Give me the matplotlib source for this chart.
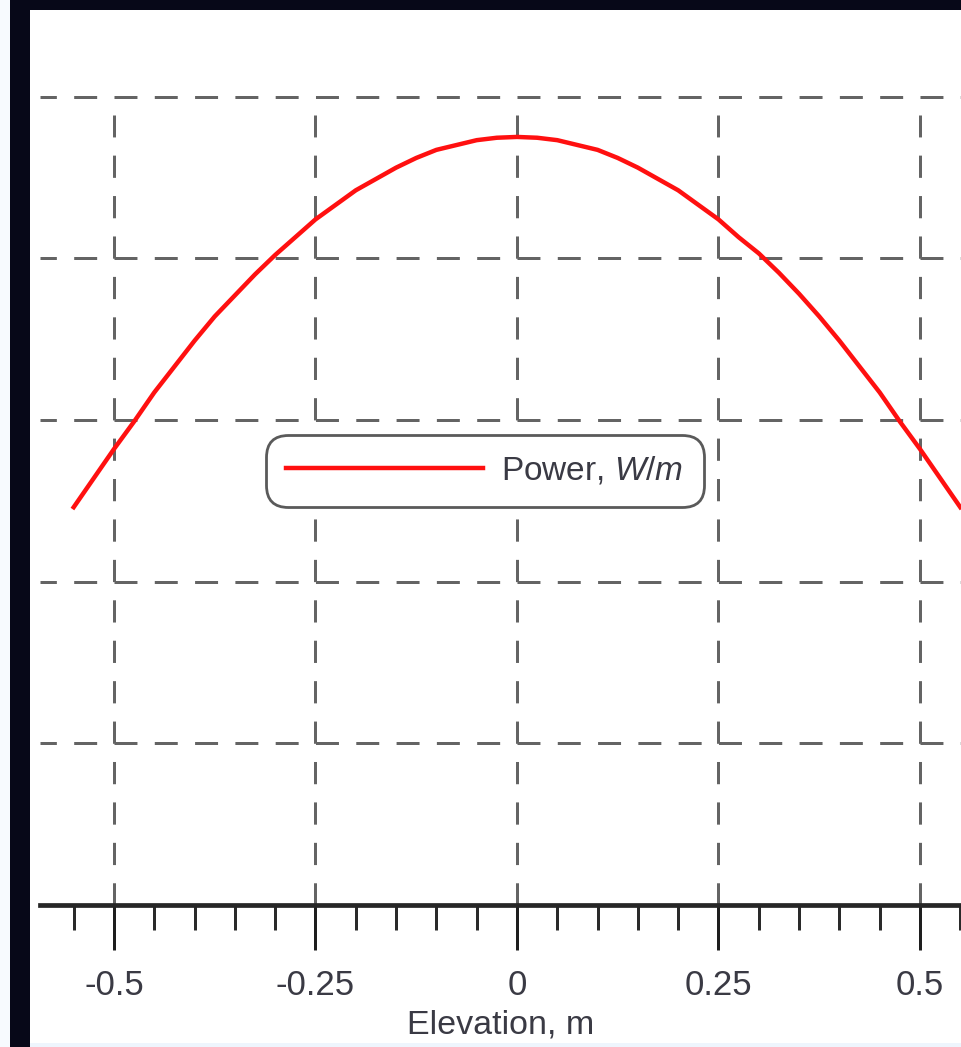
import matplotlib
matplotlib.use("Agg")
import matplotlib.pyplot as plt
from matplotlib.patches import Rectangle


# elevation (m) and power (W/m)
elevation = [-0.55, -0.525, -0.5, -0.475, -0.45, -0.425, -0.4, -0.375, -0.35, -0.325, -0.3, -0.275,
             -0.25, -0.225, -0.2, -0.175, -0.15, -0.125, -0.1, -0.075, -0.05, -0.025, 0.0,
             0.025, 0.05, 0.075, 0.1, 0.125, 0.15, 0.175, 0.2, 0.225, 0.25, 0.275, 0.3,
             0.325, 0.35, 0.375, 0.4, 0.425, 0.45, 0.475, 0.5, 0.525, 0.55]
power = [2.46, 2.64, 2.82, 2.99, 3.17, 3.33, 3.49, 3.64, 3.77, 3.90, 4.02, 4.13,
         4.24, 4.33, 4.42, 4.49, 4.56, 4.62, 4.67, 4.70, 4.73, 4.745, 4.75,
         4.745, 4.73, 4.70, 4.67, 4.62, 4.56, 4.49, 4.42, 4.33, 4.24, 4.13, 4.03,
         3.91, 3.78, 3.64, 3.49, 3.33, 3.17, 2.99, 2.82, 2.64, 2.46]

major_ticks = [-0.5, -0.25, 0.0, 0.25, 0.5]
major_labels = ["-0.5", "-0.25", "0", "0.25", "0.5"]
minor_ticks = [-0.55, -0.45, -0.4, -0.35, -0.3, -0.2, -0.15, -0.1, -0.05,
               0.05, 0.1, 0.15, 0.2, 0.3, 0.35, 0.4, 0.45, 0.55]
grid_levels = [1, 2, 3, 4, 5]

plt.rcParams["font.family"] = ["Liberation Sans", "DejaVu Sans"]
plt.rcParams["mathtext.fontset"] = "custom"
plt.rcParams["mathtext.rm"] = "Liberation Sans"
plt.rcParams["mathtext.it"] = "Liberation Sans:italic"
plt.rcParams["axes.unicode_minus"] = False
plt.rcParams["lines.scale_dashes"] = False

W, H = 961, 1047
DPI = 100
fig = plt.figure(figsize=(W / DPI, H / DPI), dpi=DPI, facecolor="#070818")

# white panel inside the dark frame
fig.add_artist(Rectangle((0, 0), 10 / W, 1, transform=fig.transFigure,
                         facecolor="#f7fafe", edgecolor="none", zorder=0))
fig.add_artist(Rectangle((30 / W, 0), 1 - 30 / W, 1 - 10 / H, transform=fig.transFigure,
                         facecolor="#eef5fd", edgecolor="none", zorder=0))
fig.add_artist(Rectangle((30 / W, 4 / H), 1 - 30 / W, 1 - 14 / H, transform=fig.transFigure,
                         facecolor="white", edgecolor="none", zorder=0))

ax = fig.add_axes([40 / W, 1 - 905 / H, 1 - 40 / W, (905 - 10) / H])
ax.patch.set_alpha(0)
ax.set_xlim(-0.5918, 0.5509)
ax.set_ylim(0, 5.535)

# dash patterns sized so cells hold whole periods
ax_w = (1 - 40 / W) * W
ax_h = (905 - 10)
px_x = ax_w / (ax.get_xlim()[1] - ax.get_xlim()[0])
px_y = ax_h / (ax.get_ylim()[1] - ax.get_ylim()[0])
pt = 72.0 / DPI

per_h = 0.05 * px_x
on_h = 0.57 * per_h
start = (-0.5 - ax.get_xlim()[0]) * px_x
phase = (per_h - (start % per_h)) % per_h
grid_col = "#646464"
for lev in grid_levels:
    ax.axhline(lev, color=grid_col, lw=3 * pt,
               linestyle=(phase * pt, (on_h * pt, (per_h - on_h) * pt)), zorder=1)

per_v = 0.25 * px_y
on_v = 0.55 * per_v
vtop = 4 + 0.75 + on_v / px_y
for xv in major_ticks:
    ax.plot([xv, xv], [0, vtop], color=grid_col, lw=3 * pt,
            linestyle=(0, (on_v * pt, (per_v - on_v) * pt)), zorder=1)

ax.plot(elevation, power, color="#ff1010", lw=3.2, label="Power, $\\mathit{W/m}$",
        solid_joinstyle="round", zorder=3)

for s in ["top", "left", "right"]:
    ax.spines[s].set_visible(False)
ax.spines["bottom"].set_color("#262626")
ax.spines["bottom"].set_linewidth(3.4)

ax.set_yticks([])
ax.set_xticks(major_ticks)
ax.set_xticklabels(major_labels)
ax.set_xticks(minor_ticks, minor=True)
ax.tick_params(axis="x", which="major", direction="out", length=45 * pt, width=3 * pt,
               color="#1e1e1e", labelsize=25, labelcolor="#3a3a44", pad=14)
ax.tick_params(axis="x", which="minor", direction="out", length=25 * pt, width=3 * pt,
               color="#2a2a2a")
ax.set_xlabel("Elevation, m", fontsize=24.5, color="#3a3a44", labelpad=5)

leg = ax.legend(loc="center", bbox_to_anchor=(485 / W, 1 - 471 / H),
                bbox_transform=fig.transFigure, fontsize=24, handlelength=5.9,
                handletextpad=0.55, borderpad=0.6, framealpha=1, fancybox=True,
                labelcolor="#3a3a44")
frame = leg.get_frame()
frame.set_edgecolor("#5a5a5a")
frame.set_linewidth(2.0)
frame.set_boxstyle("round,pad=0,rounding_size=0.65")

fig.savefig("out.png", dpi=DPI, facecolor=fig.get_facecolor())
